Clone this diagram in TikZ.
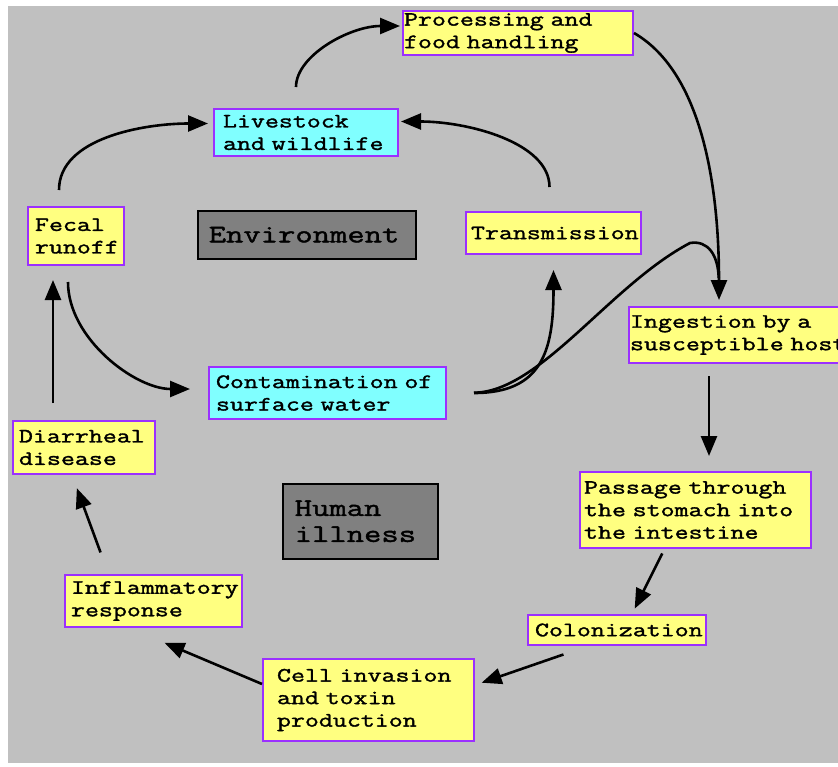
\documentclass[tikz,border=0pt]{standalone}
\usepackage{fontspec}
\usepackage{tikz}
\usetikzlibrary{arrows.meta}
\newfontfamily\typewr[FakeStretch=1.33,FakeBold=1.6]{Latin Modern Mono}
\newcommand\monospaced{\fontdimen2\font=\fontcharwd\font`M\relax}
\definecolor{panelgray}{RGB}{192,192,192}
\definecolor{paleyellow}{RGB}{255,255,128}
\definecolor{paleaqua}{RGB}{128,255,255}
\definecolor{frame}{RGB}{155,48,255}
\definecolor{taggray}{RGB}{128,128,128}

\begin{document}
\begin{tikzpicture}[x=1pt, y=-1pt,
  stage/.style={draw=frame, line width=2pt, anchor=north west, align=left,
    inner ysep=0pt, font=\typewr\fontsize{20.4}{22.5}\selectfont\monospaced},
  host/.style={stage, fill=paleyellow},
  wet/.style={stage, fill=paleaqua},
  tag/.style={draw=black, fill=taggray, line width=1.5pt, anchor=north west,
    align=left, inner ysep=0pt, font=\typewr\fontsize{25.3}{26}\selectfont\monospaced},
  arr/.style={-{Triangle[length=20pt,width=16pt]}, line width=2.6pt},
  link/.style={line width=2.6pt}]
  \useasboundingbox (0,0) rectangle (838,766);
  \fill[panelgray] (8,6) rectangle (838,763);
  % environment loop
  \node[host, minimum width=230pt, minimum height=44pt, inner xsep=1pt, text width=228pt] (proc) at (402,10) {Processing and\\food handling};
  \node[wet, minimum width=184pt, minimum height=47pt, inner xsep=9pt, text width=166pt] (live) at (213,108) {Livestock\\and wildlife};
  \node[host, minimum width=96pt, minimum height=58pt, inner xsep=7pt, text width=82pt] (fecal) at (27,206) {Fecal\\runoff};
  \node[host, minimum width=175pt, minimum height=42pt, inner xsep=5pt, text width=165pt] (trans) at (465,211) {Transmission};
  \node[wet, minimum width=237pt, minimum height=52pt, inner xsep=7pt, text width=223pt] (water) at (208,366) {Contamination of\\surface water};
  \node[tag, minimum width=218pt, minimum height=48pt, inner xsep=11pt, text width=196pt] (envtag) at (197,210) {Environment};
  % host side
  \node[host, minimum width=224pt, minimum height=56pt, inner xsep=1pt, text width=222pt] (ingest) at (628,306) {Ingestion by a\\susceptible host};
  \node[host, minimum width=231pt, minimum height=76pt, inner xsep=4pt, text width=223pt] (passage) at (579,471) {Passage through\\the stomach into\\the intestine};
  \node[host, minimum width=178pt, minimum height=30pt, inner xsep=7pt, text width=164pt] (colon) at (527,614) {Colonization};
  \node[host, minimum width=211pt, minimum height=82pt, inner xsep=14pt, text width=183pt] (cell) at (262,658) {Cell invasion\\and toxin\\production};
  \node[host, minimum width=177pt, minimum height=52pt, inner xsep=6pt, text width=165pt] (infl) at (64,574) {Inflammatory\\response};
  \node[host, minimum width=142pt, minimum height=53pt, inner xsep=6pt, text width=130pt] (diar) at (12,420) {Diarrheal\\disease};
  \node[tag, minimum width=155pt, minimum height=75pt, inner xsep=12pt, text width=131pt] (illtag) at (282,483) {Human\\illness};
  % curved links
  \draw[arr, shorten <=16pt, shorten >=5pt] ([xshift=-17pt]fecal.north) to[out=90,in=180] ([yshift=9pt]live.west);
  \draw[arr, shorten <=21pt, shorten >=2pt] ([xshift=-10pt]live.north) to[out=90,in=180] ([yshift=7pt]proc.west);
  \draw[arr, shorten <=24pt, shorten >=2pt] ([xshift=-4pt]trans.north) to[out=90,in=0] ([yshift=11pt]live.east);
  \draw[arr, shorten >=6pt] (proc.east) to[out=-30,in=90,looseness=0.8] coordinate[pos=0.9] (merge) ([xshift=-22pt]ingest.north);
  \draw[arr, shorten <=27pt, shorten >=15pt] (water.east) to[out=0,in=-90,looseness=1.4] (trans.south);
  \draw[link, shorten <=27pt] (water.east) .. controls (540,392) and (610,285) .. (690,243) .. controls (708,240) and (718,255) .. (merge);
  \draw[arr, shorten <=16pt, shorten >=18pt] ([xshift=-8pt]fecal.south) to[out=-90,in=180] ([yshift=4pt]water.west);
  % straight links
  \draw[arr, shorten <=12pt, shorten >=15pt] ([xshift=-32pt]ingest.south) -- ([xshift=13.5pt]passage.north);
  \draw[arr, shorten <=5pt, shorten >=6pt] ([xshift=-31pt]passage.south) -- ([xshift=15pt]colon.north);
  \draw[arr, shorten <=26pt, shorten >=7pt] ([xshift=-29pt]colon.south) -- ([yshift=15pt]cell.east);
  \draw[arr, shorten <=0pt, shorten >=38pt] ([yshift=16pt]cell.west) -- ([xshift=-24pt]infl.south);
  \draw[arr, shorten <=23pt, shorten >=14pt] ([xshift=-45pt]infl.north) -- ([xshift=-12pt]diar.south);
  \draw[arr, shorten <=17pt, shorten >=14pt] ([xshift=-31pt]diar.north) -- ([xshift=-23pt]fecal.south);
\end{tikzpicture}
\end{document}
